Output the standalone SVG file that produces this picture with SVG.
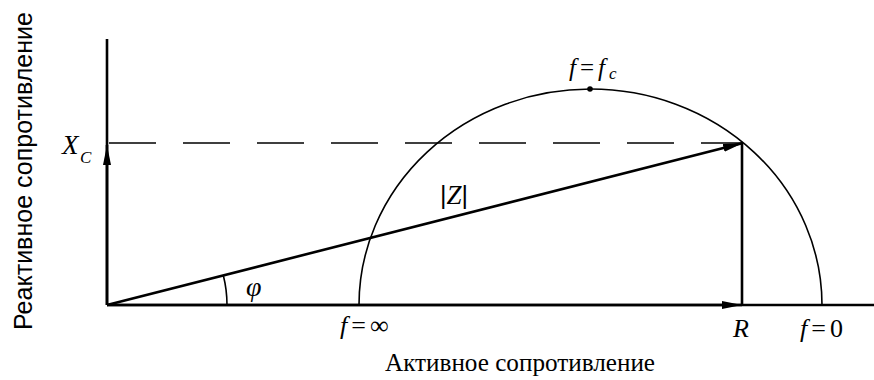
<svg xmlns="http://www.w3.org/2000/svg" width="874" height="380" viewBox="0 0 874 380">
<style>
.ax{stroke:#000;stroke-width:2.6;fill:none}
.thin{stroke:#000;stroke-width:1.6;fill:none}
.lbl{font-family:'Liberation Serif','Times New Roman',serif;fill:#000}
.it{font-style:italic}
.sp{letter-spacing:4px}
.sans{font-family:'Liberation Sans',Arial,sans-serif;fill:#000}
</style>
<defs>
<marker id="arr" viewBox="0 0 20 8" refX="20" refY="4" markerWidth="20" markerHeight="8" markerUnits="userSpaceOnUse" orient="auto">
<path d="M0,0 L20,4 L0,8 Z" fill="#000"/>
</marker>
</defs>
<rect width="874" height="380" fill="#fff"/>
<g id="connectors">
<line class="ax" x1="107" y1="305" x2="874" y2="305"/>
<line class="ax" x1="107" y1="305" x2="107" y2="39"/>
<line class="ax" x1="107" y1="305" x2="107" y2="145" marker-end="url(#arr)"/>
<line class="ax" x1="107" y1="305" x2="742" y2="305" marker-end="url(#arr)"/>
<line class="ax" x1="107" y1="305" x2="743" y2="143" marker-end="url(#arr)"/>
<line class="ax" x1="742" y1="143" x2="742" y2="305"/>
<line class="thin" x1="109" y1="143" x2="742" y2="143" stroke-dasharray="47 27"/>
<path class="thin" d="M359,305 A231.5,216 0 0 1 822,305"/>
<path class="thin" d="M227,305 A120,120 0 0 0 223.4,275.8"/>
<circle cx="590" cy="89" r="2.8" fill="#000"/>
</g>
<g id="labels">
<text class="sans" transform="translate(32,171) rotate(-90)" font-size="25" text-anchor="middle" textLength="318" lengthAdjust="spacingAndGlyphs">Реактивное сопротивление</text>
<text class="lbl" x="385" y="371" font-size="26" textLength="270" lengthAdjust="spacingAndGlyphs">Активное сопротивление</text>
<text class="lbl it" x="62" y="154" font-size="27">X</text>
<text class="lbl it" x="80" y="163" font-size="17">C</text>
<text class="lbl it" x="246" y="296" font-size="28">φ</text>
<text class="lbl" x="440" y="204" font-size="27"><tspan class="sans" font-size="25">|</tspan><tspan class="it">Z</tspan><tspan class="sans" font-size="25">|</tspan></text>
<text class="lbl sp" x="569" y="76" font-size="25"><tspan class="it">f</tspan>=<tspan class="it">f</tspan><tspan class="it" font-size="17" dy="3">c</tspan></text>
<text class="lbl sp" x="340" y="334" font-size="26"><tspan class="it">f</tspan>=∞</text>
<text class="lbl it" x="733" y="337" font-size="26">R</text>
<text class="lbl sp" x="800" y="337" font-size="26"><tspan class="it">f</tspan>=0</text>
</g>
</svg>
